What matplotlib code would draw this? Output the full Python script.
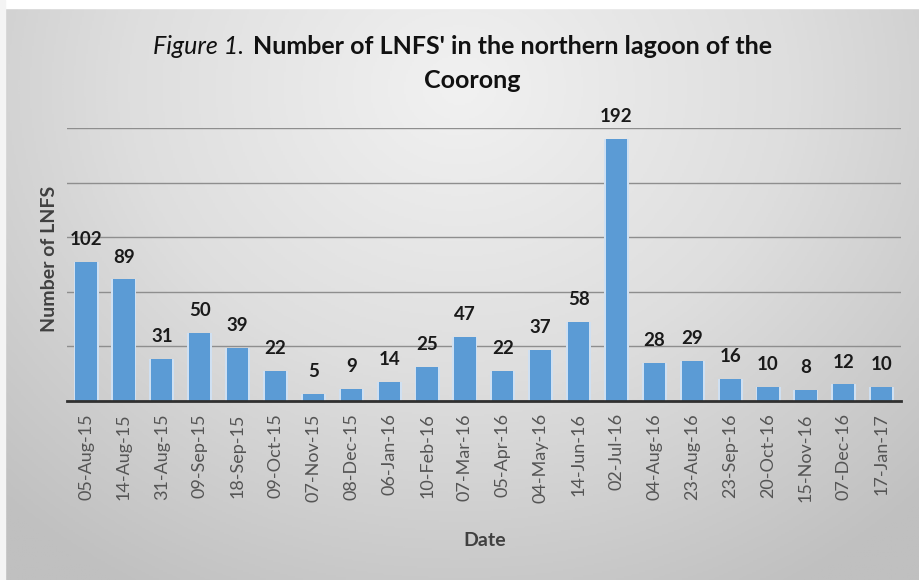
import numpy as np
import matplotlib
matplotlib.use("Agg")
import matplotlib.pyplot as plt

dates = ['05-Aug-15', '14-Aug-15', '31-Aug-15', '09-Sep-15', '18-Sep-15',
         '09-Oct-15', '07-Nov-15', '08-Dec-15', '06-Jan-16', '10-Feb-16',
         '07-Mar-16', '05-Apr-16', '04-May-16', '14-Jun-16', '02-Jul-16',
         '04-Aug-16', '23-Aug-16', '23-Sep-16', '20-Oct-16', '15-Nov-16',
         '07-Dec-16', '17-Jan-17']
counts = [102, 89, 31, 50, 39, 22, 5, 9, 14, 25, 47, 22, 37, 58, 192,
          28, 29, 16, 10, 8, 12, 10]

plt.rcParams['font.family'] = ['Lato', 'DejaVu Sans']

fig = plt.figure(figsize=(9.19, 5.8), dpi=100)

# gradient background like the excel chart area
bg = fig.add_axes([0, 0, 1, 1])
yy, xx = np.mgrid[0:1:300j, 0:1:480j]
r = np.sqrt(((xx - 0.5) / 0.72) ** 2 + ((yy - 0.15) / 1.0) ** 2)
r = np.clip(r, 0, 1)
bg.imshow(r, cmap=matplotlib.colors.LinearSegmentedColormap.from_list(
    'g', ['#f1f1f1', '#dedede', '#c0c0c0']), extent=[0, 1, 0, 1],
    aspect='auto', origin='upper')
bg.axhspan(1 - 8 / 580, 1, color='white')
bg.axvspan(0, 5 / 919, color='#f4f4f4')
bg.set_xlim(0, 1)
bg.set_ylim(0, 1)
bg.axis('off')

ax = fig.add_axes([0.073, 0.309, 0.907, 0.470])
ax.patch.set_alpha(0)
x = np.arange(len(dates))
ax.bar(x, counts, width=0.66, color='#cfe0f2', zorder=2)
ax.bar(x, counts, width=0.56, color='#5b9bd5', zorder=3)
for xi, v in zip(x, counts):
    ax.annotate(str(v), (xi, v), xytext=(0, 10), textcoords='offset points',
                ha='center', va='bottom', fontsize=13.5, fontweight='bold',
                color='#1a1a1a', annotation_clip=False, zorder=4)

ax.set_xlim(-0.5, len(dates) - 0.5)
ax.set_ylim(0, 200)
ax.set_yticks(np.arange(0, 201, 40))
ax.set_yticklabels([])
ax.grid(axis='y', color='#8e8e8e', linewidth=1, zorder=1)
ax.set_xticks(x)
ax.set_xticklabels(dates, rotation=90, fontsize=13, color='#555555')
ax.tick_params(length=0, pad=9)
for s in ['top', 'right', 'left']:
    ax.spines[s].set_visible(False)
ax.spines['bottom'].set_color('#303030')
ax.spines['bottom'].set_linewidth(2)
ax.spines['bottom'].set_zorder(5)

fig.text(50 / 919, 1 - 259 / 580, 'Number of LNFS', rotation=90, ha='center',
         va='center', fontsize=14, fontweight='bold', color='#404040')
fig.text(485 / 919, 1 - 541 / 580, 'Date', ha='center', va='center',
         fontsize=14, fontweight='bold', color='#404040')

# title: italic "Figure 1." followed by bold text
fig.text(244 / 919, 1 - 46 / 580, 'Figure 1.', ha='right', va='center',
         fontsize=18, style='italic', color='#111111')
fig.text(253 / 919, 1 - 46 / 580, "Number of LNFS' in the northern lagoon of the",
         ha='left', va='center', fontsize=18, fontweight='bold', color='#111111')
fig.text(472 / 919, 1 - 80 / 580, 'Coorong', ha='center', va='center',
         fontsize=18, fontweight='bold', color='#111111')

fig.savefig('out.png', dpi=100)
